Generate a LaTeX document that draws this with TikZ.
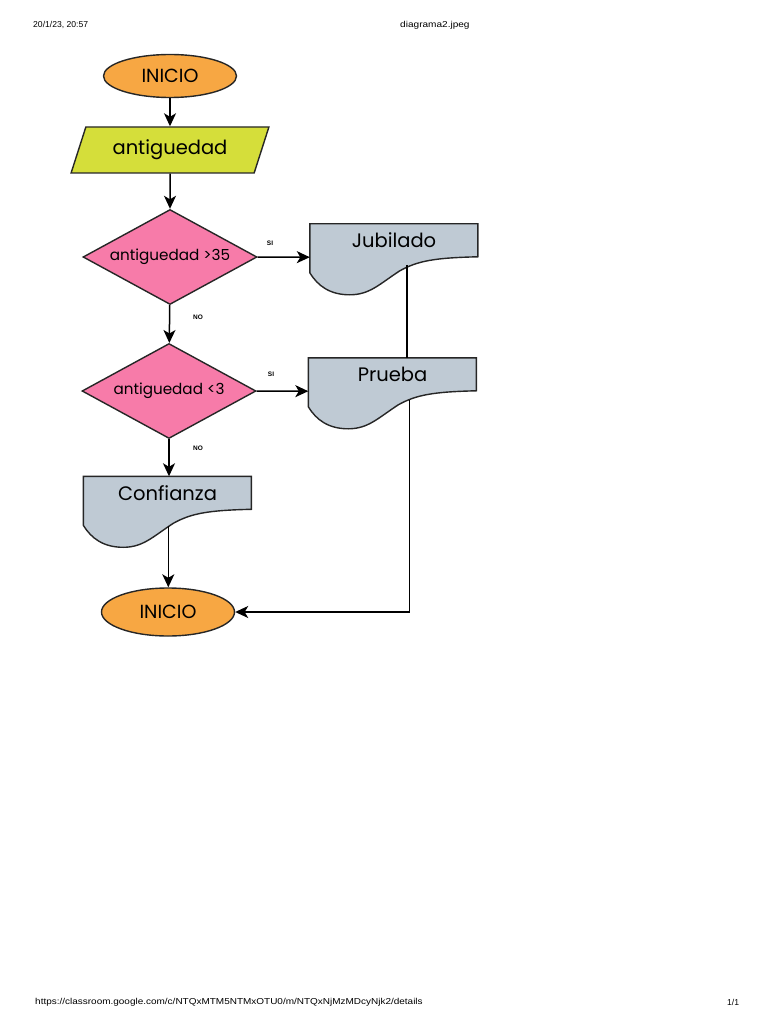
\documentclass[tikz,border=0pt]{standalone}
\usepackage{fontspec}
\setmainfont{Poppins}
\newfontfamily\arial{Liberation Sans}
\usetikzlibrary{shapes.geometric,arrows.meta,backgrounds}

\definecolor{naranja}{HTML}{F7A743}
\definecolor{lima}{HTML}{D5DE3A}
\definecolor{rosa}{HTML}{F77BA9}
\definecolor{gris}{HTML}{BFCAD4}

\tikzset{
  borde/.style={draw=black!85,line width=1.4pt},
  inicio/.style={ellipse,borde,fill=naranja,inner sep=0pt,minimum width=133pt,font=\fontsize{19}{19}\selectfont},
  entrada/.style={trapezium,trapezium left angle=63.4,trapezium right angle=116.6,trapezium stretches=true,
    borde,fill=lima,inner sep=0pt,minimum width=198pt,minimum height=46pt,font=\fontsize{19.5}{19.5}\selectfont},
  decision/.style={diamond,borde,fill=rosa,inner sep=0pt,aspect=1.83,minimum width=174pt,minimum height=95pt,
    font=\fontsize{15.2}{15.2}\selectfont},
  hoja/.style={inner sep=0pt,minimum width=168pt,minimum height=33pt,font=\fontsize{19.5}{19.5}\selectfont},
  etiqueta/.style={font=\arial\bfseries\fontsize{6.5}{6.5}\selectfont},
  arr/.style={-{Stealth[length=13pt,width=12pt,inset=3.5pt]},line width=1.5pt},
  linea/.style={line width=1.5pt},
  cabecera/.style={anchor=west,inner sep=0pt,font=\arial\fontsize{8.6}{9}\selectfont}
}

% fondo de documento con borde ondulado debajo del nodo
\newcommand{\hojafondo}[1]{%
  \begin{scope}[on background layer,shift={(#1.north west)}]
    \draw[borde,fill=gris] (0,0) -- (168,0) -- (168,33)
      .. controls (125,34) and (108,37) .. (90,47)
      .. controls (70,60) and (60,71) .. (40,71)
      .. controls (20,71) and (8,62) .. (0,49) -- cycle;
  \end{scope}}

\begin{document}
\begin{tikzpicture}[x=1pt,y=-1pt]

\useasboundingbox (0,0) rectangle (768,1024);

% cabecera y pie de pagina
\node[cabecera] (fecha) at (33,25) {20/1/23, 20:57};
\node[cabecera,xscale=1.17,transform shape] (archivo) at (400,25) {diagrama2.jpeg};
\node[cabecera,xscale=1.16,transform shape] (url) at (35,1002) {https://classroom.google.com/c/NTQxMTM5NTMxOTU0/m/NTQxNjMzMDcyNjk2/details};
\node[cabecera] (pag) at (727,1002) {1/1};

\node[inicio,minimum height=43pt] (ini) at (170,76) {INICIO};
\node[entrada] (ant) at (170,150) {antiguedad};
\node[decision] (d1) at (170,257) {antiguedad >35};
\node[decision] (d2) at (169,391) {antiguedad <3};% decisiones
\node[hoja] (jub) at (394,240.5) {Jubilado};
\node[hoja] (pru) at (392.5,374.5) {Prueba};
\node[hoja] (conf) at (167.5,493) {Confianza};
\node[inicio,minimum height=48pt] (fin) at (168,612) {INICIO};

\hojafondo{jub}
\hojafondo{pru}
\hojafondo{conf}

\coordinate (jubw) at ([shift={(97,41)}]jub.north west);
\coordinate (pruw) at ([shift={(101,42)}]pru.north west);% puntos en la onda
\coordinate (confw) at ([shift={(85,50)}]conf.north west);

\node[etiqueta] (si1) at (270,243) {SI};
\node[etiqueta] (no1) at (198,317) {NO};
\node[etiqueta] (si2) at (271,374) {SI};
\node[etiqueta] (no2) at (198,448) {NO};

\draw[arr] (ini) -- (ant);
\draw[arr] (ant) -- (d1);
\draw[arr] (d1.east) -- (jub.south west);
\draw[arr] (d1) -- (d2);
\draw[arr] (d2.east) -- (pru.south west);
\draw[arr] (d2.south) -- (d2.south |- conf.north);
\draw[arr] (confw) -- (confw |- fin.north);
\draw[linea] (jubw) -- (jubw |- pru.north);
\draw[arr] (pruw) |- (fin.east);

\end{tikzpicture}
\end{document}
